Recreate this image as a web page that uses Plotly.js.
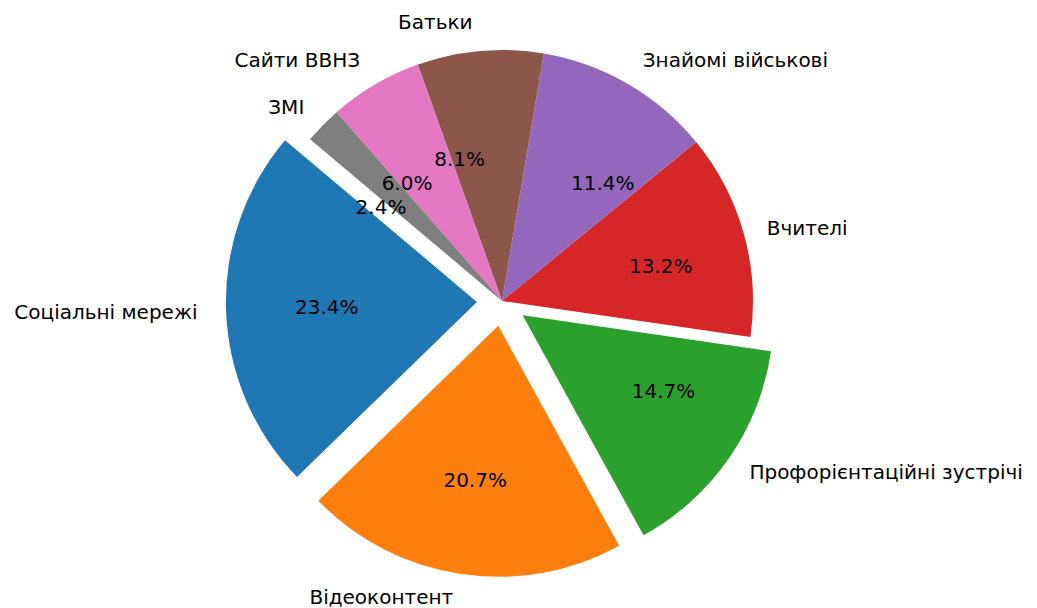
<!DOCTYPE html>
<html>
<head>
<meta charset="utf-8">
<script src="https://cdn.plot.ly/plotly-3.0.1.min.js"></script>
<style>
html,body{margin:0;padding:0;background:#fff;}
#chart{width:1037px;height:608px;}
#chart path.textline{stroke-opacity:0 !important;}
</style>
</head>
<body>
<div id="chart"></div>
<script>
const labels = ["Соціальні мережі", "Відеоконтент", "Профорієнтаційні зустрічі", "Вчителі", "Знайомі військові", "Батьки", "Сайти ВВНЗ", "ЗМІ"];
const values = [23.4, 20.7, 14.7, 13.2, 11.4, 8.1, 6.0, 2.4];
const explode = [0.1, 0.1, 0.1, 0, 0, 0, 0, 0];
const colors = ["#1f77b4", "#ff7f0e", "#2ca02c", "#d62728", "#9467bd", "#8c564b", "#e377c2", "#7f7f7f"];

const fontFam = "DejaVu Sans, sans-serif";
// ---- styling / placement ----
const labelGap = [0.09, 0.045, 0.07, 0.07, 0.07, 0.07, 0.07, 0.07]; // extra distance of outer labels
const pctOnRing = [false, false, true, true, true, true, true, true]; // percentage written around an inner ring
const ringFrac = 0.5;
const plotH = 602;          // plot-area height (px) given the margins below
const R = 251;              // pie radius in px

function yDomain(maxPull, rad) {
  const f = Math.min(1, rad * (2 + 2 * maxPull) / plotH);
  return [0.5 - f / 2, 0.5 + f / 2];
}
const lblPulls = explode.map((p, i) => p + labelGap[i]);
const ringPulls = explode.map(p => p / ringFrac);

const common = {
  type: "pie",
  labels: labels,
  values: values,
  sort: false,
  direction: "counterclockwise",
  rotation: -134.2,
  showlegend: false,
  hoverinfo: "skip",
  automargin: false
};
const pctTrace = Object.assign({}, common, {
  pull: explode,
  domain: {x: [0, 1], y: yDomain(Math.max(...explode), R)},
  marker: {colors: colors, line: {width: 0}},
  texttemplate: "%{percent:.1%}",
  textposition: pctOnRing.map(s => s ? "none" : "inside"),
  insidetextorientation: "horizontal",
  textfont: {family: fontFam, size: 20, color: "#000"}
});
const ringTrace = Object.assign({}, common, {
  pull: ringPulls,
  domain: {x: [0, 1], y: yDomain(Math.max(...ringPulls), R * ringFrac)},
  marker: {colors: labels.map(() => "rgba(0,0,0,0)"), line: {width: 0}},
  texttemplate: "%{percent:.1%}",
  textposition: pctOnRing.map(s => s ? "outside" : "none"),
  outsidetextfont: {family: fontFam, size: 20, color: "#000"}
});
const lblTrace = Object.assign({}, common, {
  pull: lblPulls,
  domain: {x: [0, 1], y: yDomain(Math.max(...lblPulls), R)},
  marker: {colors: labels.map(() => "rgba(0,0,0,0)"), line: {width: 0}},
  texttemplate: "%{label}",
  textposition: "outside",
  outsidetextfont: {family: fontFam, size: 20, color: "#000"}
});
const layout = {
  width: 1037, height: 608,
  margin: {l: 0, r: 33, t: 0, b: 6},
  paper_bgcolor: "#fff",
  plot_bgcolor: "#fff",
  font: {family: fontFam}
};
Plotly.newPlot("chart", [pctTrace, ringTrace, lblTrace], layout, {displayModeBar: false, staticPlot: true});
</script>
</body>
</html>
